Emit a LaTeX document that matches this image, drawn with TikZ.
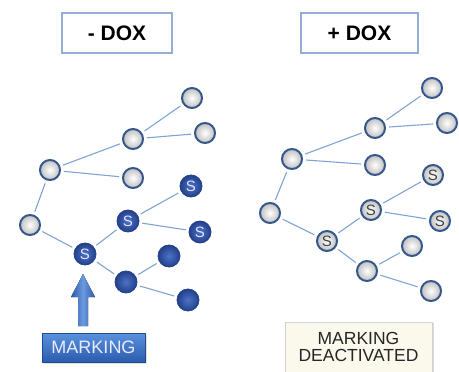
\documentclass[tikz,border=0pt]{standalone}
\usepackage{fontspec}
\setmainfont{Liberation Sans}
\usetikzlibrary{shadows,backgrounds}
\definecolor{edgec}{HTML}{7FA3D3}
\definecolor{nodeb}{HTML}{35588C}
\definecolor{darkb}{HTML}{22418A}
\definecolor{midb}{HTML}{4E72C8}
\definecolor{boxb}{HTML}{93ADD6}
\definecolor{mktop}{HTML}{5A92DE}
\definecolor{mkbot}{HTML}{2A5CAE}
\definecolor{arrd}{HTML}{2D5AA8}
\definecolor{arrl}{HTML}{6A9AE0}
\definecolor{cream}{HTML}{FBF8EC}
\begin{document}
\begin{tikzpicture}[x=1pt,y=-1pt,
  plain/.style={circle, draw=nodeb, line width=2pt, inner color=white, outer color=gray!50,
    minimum size=20pt, inner sep=0pt, font=\fontsize{15}{15}\selectfont, text=black!75},
  sw/.style={plain},
  sb/.style={circle, draw=darkb, line width=0.8pt, inner color=midb, outer color=darkb,
    minimum size=22pt, inner sep=0pt, font=\fontsize{15}{15}\selectfont, text=white!90!blue},
  edge/.style={draw=edgec, line width=1.1pt, shorten >=3pt, shorten <=3pt},
  doxbox/.style={draw=boxb, line width=1.2pt, fill=white, minimum height=40pt,
    font=\fontsize{21}{21}\selectfont\bfseries, drop shadow={shadow xshift=1pt, shadow yshift=-1pt, opacity=0.2}},
]
\useasboundingbox (0,0) rectangle (459,372);

% title boxes
\node[doxbox, minimum width=110pt] (dl) at (117,33) {- DOX};
\node[doxbox, minimum width=117pt] (dr) at (359.5,33) {+ DOX};

% left tree
\node[plain] (a1) at (192,98) {};
\node[plain] (a2) at (205,133) {};
\node[plain] (b)  at (133,139) {};
\node[plain] (c)  at (50,170) {};
\node[plain] (d)  at (133,178) {};
\node[sb]    (s1) at (191,186) {S};
\node[plain] (e)  at (30,225) {};
\node[sb]    (s2) at (128,221) {S};
\node[sb]    (s3) at (200,232) {S};
\node[sb]    (s4) at (85,254) {S};
\node[sb]    (k1) at (169,256) {};
\node[sb]    (k2) at (126,282) {};
\node[sb]    (k3) at (188,300) {};

\begin{scope}[on background layer]
\foreach \u/\v in {c/b, c/d, b/a1, b/a2, c/e, e/s4, s4/s2, s2/s1, s2/s3, s4/k2, k2/k1, k2/k3}
  \draw[edge] (\u) -- (\v);
\end{scope}

% right tree
\node[plain] (ra1) at (432,88) {};
\node[plain] (ra2) at (447,123) {};
\node[plain] (rb)  at (375,128) {};
\node[plain] (rc)  at (292,159) {};
\node[plain] (rd)  at (375,165) {};
\node[sw]    (rs1) at (433,175) {S};
\node[plain] (re)  at (270,213) {};
\node[sw]    (rs2) at (371,210) {S};
\node[sw]    (rs3) at (440,221) {S};
\node[sw]    (rs4) at (327,241) {S};
\node[plain] (rk1) at (412,246) {};
\node[plain] (rk2) at (367,271) {};
\node[plain] (rk3) at (431,291) {};

\begin{scope}[on background layer]
\foreach \u/\v in {rc/rb, rc/rd, rb/ra1, rb/ra2, rc/re, re/rs4, rs4/rs2, rs2/rs1, rs2/rs3, rs4/rk2, rk2/rk1, rk2/rk3}
  \draw[edge] (\u) -- (\v);
\end{scope}

% marking box and arrow
\node[minimum width=103pt, minimum height=29pt, top color=mktop, bottom color=mkbot,
  draw=mkbot!80!black, line width=0.5pt, text=white!92!blue, font=\fontsize{18}{18}\selectfont,
  drop shadow={shadow xshift=1.5pt, shadow yshift=-1.5pt, opacity=0.25}] (mk) at (93.5,347.5) {MARKING};
\fill[left color=arrd, right color=arrd, middle color=arrl]
  (78,326) -- (88,326) -- (88,297) -- (95,297) -- (83,274) -- (71,297) -- (78,297) -- cycle;

\node[minimum width=147pt, minimum height=50pt, fill=cream, draw=gray!35, line width=0.6pt,
  align=center, font=\fontsize{17.5}{17}\selectfont, text=black!85,
  drop shadow={shadow xshift=2pt, shadow yshift=-1pt, opacity=0.3}] (md) at (358.5,347) {MARKING\\DEACTIVATED};
\end{tikzpicture}
\end{document}
